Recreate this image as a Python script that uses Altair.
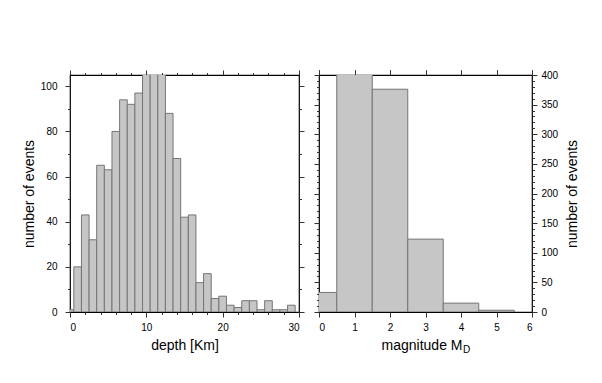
import altair as alt
import pandas as pd

# ---- data ----
depth_centers = list(range(30))
depth_counts = [1, 20, 43, 32, 65, 63, 80, 94, 92, 97, 110, 112, 108, 88, 68,
                42, 43, 13, 17, 6, 7, 3, 2, 5, 5, 1, 5, 1, 1, 3]
mag_centers = [0, 1, 2, 3, 4, 5]
mag_counts = [33, 430, 376, 123, 15, 3]

depth_x_major = [0, 10, 20, 30]
depth_x_minor = [v for v in range(0, 31, 2) if v % 10]
depth_y_major = list(range(0, 101, 20))
depth_y_minor = list(range(10, 101, 20))
mag_x_major = [0, 1, 2, 3, 4, 5, 6]
mag_y_major = list(range(0, 401, 50))
mag_y_minor = [v for v in range(0, 401, 10) if v % 50]

x_title_left = "depth [Km]"
y_title = "number of events"
x_title_right = ["magnitude M", "D"]

BIN = 1.0
depth_df = pd.DataFrame({"center": depth_centers, "count": depth_counts})
depth_df["start"] = depth_df["center"] - BIN / 2
depth_df["end"] = depth_df["center"] + BIN / 2
mag_df = pd.DataFrame({"center": mag_centers, "count": mag_counts})
mag_df["start"] = mag_df["center"] - BIN / 2
mag_df["end"] = mag_df["center"] + BIN / 2

FONT = "Liberation Sans"
W1, W2, H = 229, 213, 237
MAJ, MIN = 5, 2.5
FILL, STROKE = "#c6c6c6", "#757575"


def ax(orient, values, size=MAJ, labels=False, title=None, **kw):
    return alt.Axis(orient=orient, values=values, tickSize=size, labels=labels,
                    title=title, domain=False, grid=False, **kw)


def panel(df, xdom, ydom, ymax, width, axes_sets, extra=None):
    xs = alt.Scale(domain=xdom, nice=False, zero=False, padding=0)
    ys = alt.Scale(domain=ydom, nice=False, padding=0)
    bars = alt.Chart(df).mark_rect(clip=True, fill=FILL, stroke=STROKE,
                                   strokeWidth=1).encode(
        x=alt.X("start:Q", scale=xs, axis=axes_sets[0][0]),
        x2="end:Q",
        y=alt.Y("count:Q", scale=ys, axis=axes_sets[0][1]),
        y2=alt.datum(0),
    )
    ghost_df = df[df["count"] <= ymax]
    layers = [bars]
    for xa, ya in axes_sets[1:]:
        layers.append(
            alt.Chart(ghost_df).mark_point(opacity=0, size=1).encode(
                x=alt.X("center:Q", scale=xs, axis=xa),
                y=alt.Y("count:Q", scale=ys, axis=ya),
            )
        )
    if extra:
        layers.extend(extra)
    return alt.layer(*layers).resolve_axis(x="independent", y="independent").properties(
        width=width, height=H)


left = panel(
    depth_df, [0, 30], [0, 105], 105, W1,
    [
        (ax("bottom", depth_x_major, labels=True, title=x_title_left, titlePadding=6),
         ax("left", depth_y_major, labels=True, title=y_title, labelPadding=8,
            titlePadding=4)),
        (ax("bottom", depth_x_minor, MIN), ax("left", depth_y_minor, MIN)),
        (ax("top", depth_x_major), ax("right", depth_y_major)),
        (ax("top", depth_x_minor, MIN), ax("right", depth_y_minor, MIN)),
    ],
)

title_df = pd.DataFrame({"main": [x_title_right[0]], "sub": [x_title_right[1]]})
title_x = W2 / 2 + 37
mag_title = [
    alt.Chart(title_df).mark_text(align="right", baseline="alphabetic",
                                  fontSize=14, font=FONT, color="black").encode(
        text="main:N", x=alt.value(title_x), y=alt.value(H + 38)),
    alt.Chart(title_df).mark_text(align="left", baseline="alphabetic",
                                  fontSize=10, font=FONT, color="black").encode(
        text="sub:N", x=alt.value(title_x + 0.5), y=alt.value(H + 41)),
]

right = panel(
    mag_df, [0, 6], [0, 400], 400, W2,
    [
        (ax("bottom", mag_x_major, labels=True), ax("left", mag_y_major)),
        (ax("top", mag_x_major), ax("left", mag_y_minor, MIN)),
        (ax("top", mag_x_major),
         ax("right", mag_y_major, labels=True, title=y_title, labelPadding=4,
            titleAngle=270, titleBaseline="top")),
        (ax("top", mag_x_major), ax("right", mag_y_minor, MIN)),
    ],
    extra=mag_title,
)

chart = alt.hconcat(left, right, spacing=6).properties(
    padding={"left": 13, "top": 60, "right": 5, "bottom": 5},
    background="white",
).configure_view(stroke="black", strokeWidth=1.2).configure_axis(
    labelFont=FONT, labelFontSize=10, labelColor="black", labelPadding=5,
    titleFont=FONT, titleFontSize=14, titleFontWeight="normal", titleColor="black",
    titlePadding=8, tickColor="#333333", tickWidth=1,
)

chart.save("out.html", embed_options={"renderer": "svg", "actions": False})
